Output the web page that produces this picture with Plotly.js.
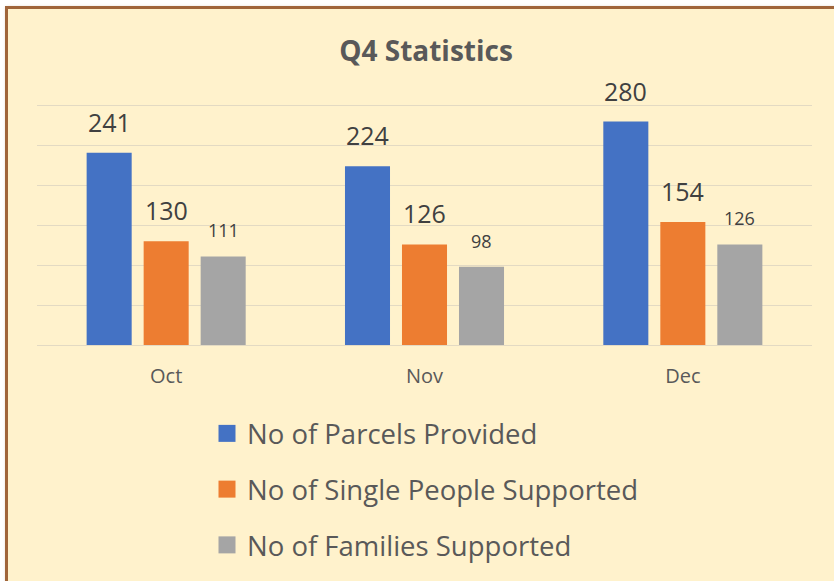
<!DOCTYPE html>
<html>
<head>
<meta charset="utf-8">
<script src="https://cdn.plot.ly/plotly-3.0.1.min.js"></script>
<style>
  html, body { margin: 0; padding: 0; background: #ffffff; overflow: hidden; }
  #frame {
    position: absolute; left: 5px; top: 6px; width: 900px; height: 700px;
    background: #FFF2CC;
    border-left: 3px solid #A0653A; border-top: 3px solid #A0653A;
    box-shadow: 1px 1px 3px rgba(120,80,40,0.35);
  }
  #chart { position: absolute; left: 0; top: 0; width: 834px; height: 581px; }
</style>
</head>
<body>
<div id="frame"></div>
<div id="chart"></div>
<script>
// ---- data ----
const months = ["Oct", "Nov", "Dec"];
const parcels = [241, 224, 280];
const singles = [130, 126, 154];
const families = [111, 98, 126];
const seriesNames = ["No of Parcels Provided", "No of Single People Supported", "No of Families Supported"];
const seriesColors = ["#4472C4", "#ED7D31", "#A5A5A5"];

const series = [parcels, singles, families];
const labelSizes = [25, 25, 18];
const FONT = "'Open Sans', sans-serif";

const W = 834, H = 581;
const margin = { l: 37, r: 22, t: 104, b: 235, pad: 0 };
const yRange = [0, 302];
const bargap = 0.338, bargroupgap = 0.21;
const plotW = W - margin.l - margin.r;
const plotH = H - margin.t - margin.b;

const traces = series.map((vals, i) => ({
  type: "bar",
  name: seriesNames[i],
  x: months,
  y: vals,
  marker: { color: seriesColors[i] },
  legendgroup: "g" + i,
  hoverinfo: "skip"
}));

// offset of each bar within its group, derived from the axis layout
const catW = plotW / months.length;
const slotW = catW * (1 - bargap) / series.length;

const annotations = [];
series.forEach((vals, i) => {
  vals.forEach((v, j) => {
    annotations.push({
      x: months[j], y: v, xref: "x", yref: "y",
      text: String(v), showarrow: false,
      xanchor: "center", yanchor: "bottom",
      xshift: (i - (series.length - 1) / 2) * slotW,
      yshift: 12,
      font: { family: FONT, size: labelSizes[i], color: "#404040" }
    });
  });
});

const layout = {
  width: W, height: H,
  margin: margin,
  paper_bgcolor: "rgba(0,0,0,0)",
  plot_bgcolor: "rgba(0,0,0,0)",
  font: { family: FONT, color: "#595959" },
  title: {
    text: "<b>Q4 Statistics</b>",
    x: (426 - margin.l) / plotW, xref: "paper", xanchor: "center",
    y: 1 - 51 / H, yanchor: "middle", yref: "container",
    font: { family: FONT, size: 28, color: "#595959" }
  },
  barmode: "group",
  bargap: bargap,
  bargroupgap: bargroupgap,
  xaxis: {
    type: "category",
    showgrid: false, showline: false, zeroline: false,
    ticks: "", ticklabelstandoff: 17, tickangle: 0,
    tickfont: { family: FONT, size: 20, color: "#595959" },
    fixedrange: true
  },
  yaxis: {
    range: yRange, dtick: 50, tick0: 0,
    showticklabels: false, ticks: "",
    showgrid: true, gridcolor: "#E3DAC3", gridwidth: 1,
    zeroline: true, zerolinecolor: "#E3DAC3", zerolinewidth: 1,
    showline: false, fixedrange: true
  },
  showlegend: true,
  legend: {
    orientation: "v",
    xref: "paper", yref: "paper",
    x: (207 - margin.l) / plotW, xanchor: "left",
    y: (H - margin.b - 409) / plotH, yanchor: "top",
    traceorder: "grouped",
    tracegroupgap: 17,
    bgcolor: "rgba(0,0,0,0)",
    font: { family: FONT, size: 27.5, color: "#595959" }
  },
  annotations: annotations
};

Plotly.newPlot("chart", traces, layout, { displayModeBar: false, staticPlot: true }).then(() => {
  // enlarge legend swatches to match the reference's bigger squares
  document.querySelectorAll(".legend .legendpoints path").forEach(p => {
    p.setAttribute("d", "M8.5,8.5H-8.5V-8.5H8.5Z");
  });
});
</script>
</body>
</html>
